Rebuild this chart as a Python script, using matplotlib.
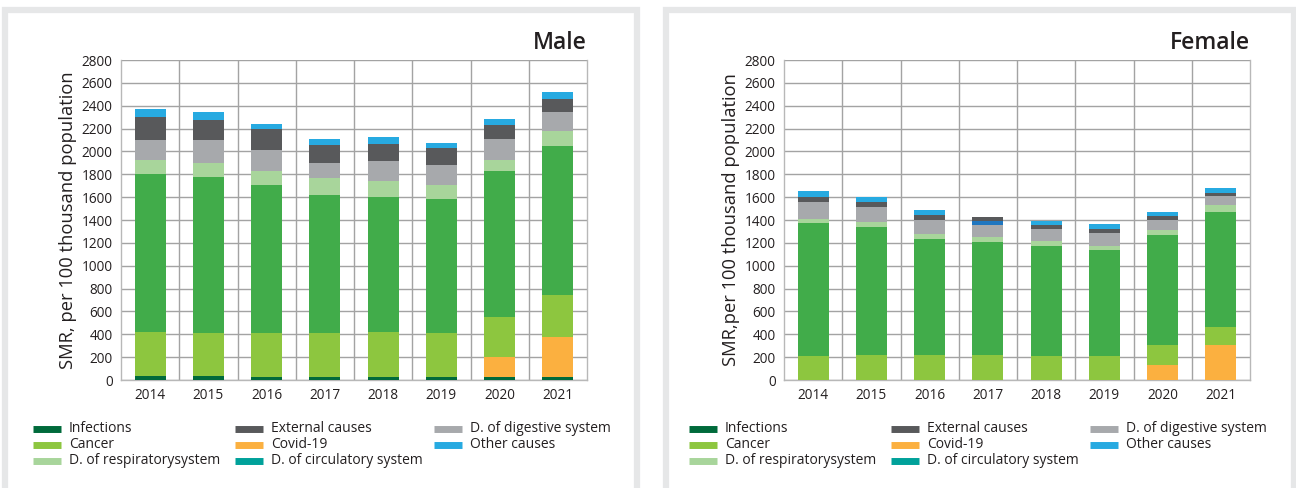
import numpy as np
import matplotlib
matplotlib.use("Agg")
import matplotlib.pyplot as plt
from matplotlib.patches import Rectangle
from matplotlib.lines import Line2D

plt.rcParams["font.family"] = ["Open Sans", "DejaVu Sans"]

years = ["2014", "2015", "2016", "2017", "2018", "2019", "2020", "2021"]

# stacked from bottom to top
male_infections = [35, 35, 26, 26, 26, 26, 26, 26]
male_covid = [0, 0, 0, 0, 0, 0, 175, 350]
male_cancer = [384, 375, 384, 384, 393, 384, 349, 366]
male_circulatory = [1380, 1363, 1293, 1206, 1179, 1171, 1275, 1302]
male_respiratory = [122, 122, 122, 148, 140, 122, 96, 139]
male_digestive = [175, 201, 184, 131, 175, 175, 184, 166]
male_unlabelled = [0, 0, 0, 0, 0, 0, 0, 0]
male_external = [201, 175, 183, 157, 148, 148, 122, 114]
male_other = [70, 78, 52, 53, 61, 52, 61, 61]

female_infections = [0, 0, 0, 0, 0, 0, 0, 0]
female_covid = [0, 0, 0, 0, 0, 0, 131, 306]
female_cancer = [210, 219, 219, 219, 210, 210, 175, 157]
female_circulatory = [1163, 1119, 1014, 988, 962, 927, 962, 1006]
female_respiratory = [35, 44, 44, 44, 44, 35, 44, 61]
female_digestive = [149, 131, 122, 104, 104, 114, 87, 79]
female_unlabelled = [0, 0, 0, 35, 0, 0, 0, 0]
female_external = [43, 44, 44, 35, 35, 34, 35, 26]
female_other = [53, 43, 44, 0, 35, 44, 35, 44]

# bar colours (circulatory drawn green in the source, teal in its legend)
BAR_COLORS = ["#006a3b", "#fbb040", "#8dc63f", "#41ac4a", "#a8d59b",
              "#a7a9ac", "#1f76bf", "#58595b", "#27aae1"]
LEGEND = [("Infections", "#006a3b"), ("Cancer", "#8dc63f"),
          ("D. of respiratorysystem", "#a8d59b"), ("External causes", "#58595b"),
          ("Covid-19", "#fbb040"), ("D. of circulatory system", "#00a19a"),
          ("D. of digestive system", "#a7a9ac"), ("Other causes", "#27aae1")]

W, H = 1296, 488
fig = plt.figure(figsize=(W / 100, H / 100), dpi=100)


def fx(px):
    return px / W


def fy(py):
    return 1 - py / H


# panel frames (open at the bottom)
for x0, x1 in [(5, 637), (666, 1294)]:
    fig.add_artist(Rectangle((fx(x0), fy(H + 10)), fx(x1 - x0), fy(9.5) - fy(H + 10),
                             transform=fig.transFigure, fill=False,
                             edgecolor="#e6e7e8", linewidth=4.5))


def draw_panel(left, series, title, ylabel, legend_x):
    ax = fig.add_axes([fx(left), fy(380), fx(466), fy(60) - fy(380)])
    x = np.arange(len(years))
    bottom = np.zeros(len(years))
    for vals, col in zip(series, BAR_COLORS):
        ax.bar(x, vals, width=0.53, bottom=bottom, color=col, linewidth=0, zorder=3)
        bottom += np.array(vals)
    ax.set_xlim(-0.5, len(years) - 0.5)
    ax.set_ylim(0, 2800)
    ax.set_yticks(np.arange(0, 2801, 200))
    ax.set_xticks(x)
    ax.set_xticklabels(years)
    ax.set_xticks(np.arange(0.5, len(years) - 1, 1), minor=True)
    ax.grid(True, axis="y", color="#a3a3a3", linewidth=1, zorder=0)
    ax.grid(True, axis="x", which="minor", color="#a3a3a3", linewidth=1, zorder=0)
    ax.tick_params(length=0, which="both", labelsize=9.8, pad=6, colors="#231f20")
    for s in ax.spines.values():
        s.set_color("#b8b8b8")
        s.set_linewidth(1)
    ax.spines["top"].set_visible(False)
    ax.set_ylabel(ylabel, fontsize=13.2, labelpad=3, color="#231f20")
    ax.text(1.0, 1.035, title, transform=ax.transAxes, ha="right", va="baseline",
            fontsize=16.5, fontweight="semibold", color="#231f20")
    # legend, three columns
    cols = [legend_x, legend_x + 202, legend_x + 401]
    for i, (label, col) in enumerate(LEGEND):
        c, r = divmod(i, 3)
        y = fy(428.5 + r * 16)
        px = cols[c]
        fig.add_artist(Line2D([fx(px), fx(px + 28)], [y, y], transform=fig.transFigure,
                              color=col, linewidth=5, solid_capstyle="butt"))
        fig.text(fx(px + 36), y, label, fontsize=10, va="center", ha="left",
                 color="#231f20")
    return ax


draw_panel(121, [male_infections, male_covid, male_cancer, male_circulatory,
                 male_respiratory, male_digestive, male_unlabelled, male_external,
                 male_other],
           "Male", "SMR, per 100 thousand population", 33)
draw_panel(784, [female_infections, female_covid, female_cancer, female_circulatory,
                 female_respiratory, female_digestive, female_unlabelled,
                 female_external, female_other],
           "Female", "SMR,per 100 thousand population", 689)

fig.savefig("out.png", dpi=100)
